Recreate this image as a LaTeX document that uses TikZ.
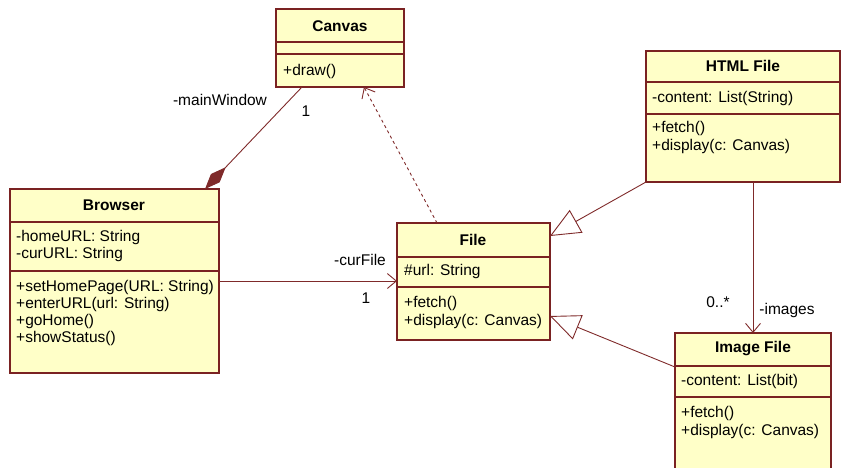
\documentclass[tikz,border=0pt]{standalone}
\usepackage{fontspec}
\setmainfont{Liberation Sans}
\usetikzlibrary{arrows.meta,calc}
\definecolor{boxfill}{HTML}{FFFFC8}
\definecolor{boxline}{HTML}{7A2222}
\definecolor{conn}{HTML}{7F2A2A}
\tikzset{
  umlbox/.style={draw=boxline, line width=1.2pt, fill=boxfill, anchor=north west, inner sep=0pt, outer sep=0pt},
  divider/.style={draw=boxline, line width=1.2pt},
  ttl/.style={font=\fontsize{15.5}{17}\selectfont\bfseries, inner sep=0pt, anchor=center},
  txt/.style={font=\fontsize{15.5}{17}\selectfont, inner sep=0pt, anchor=west},
  lbl/.style={font=\fontsize{15.5}{17}\selectfont, inner sep=0pt, anchor=center},
  connector/.style={draw=conn, line width=0.9pt},
  gentip/.style={-{Triangle[open,length=30pt,width=26pt,fill=white]}},
  barbtip/.style={-{Straight Barb[length=9pt,width=15pt]}},
}
\begin{document}
\begin{tikzpicture}[x=1pt,y=-1pt]
\useasboundingbox (0,0) rectangle (846,467);
% Canvas
\node[umlbox, minimum width=128pt, minimum height=78pt] (canvas) at (276,9) {};
\draw[divider] (276,42) -- (404,42);
\draw[divider] (276,54) -- (404,54);
\node[ttl] (canvasT) at (340,26) {Canvas};
\node[txt] (canvasM1) at (283,71) {+draw()};
% Browser
\node[umlbox, minimum width=209pt, minimum height=184pt] (browser) at (10,189) {};
\draw[divider] (10,222) -- (219,222);
\draw[divider] (10,271) -- (219,271);
\node[ttl] (browserT) at (114,205) {Browser};
\node[txt] (browserA1) at (16,237) {-homeURL: String};
\node[txt] (browserA2) at (16,254) {-curURL: String};
\node[txt] (browserM1) at (16,287) {+setHomePage(URL: String)};
\node[txt] (browserM2) at (16,304) {+enterURL(url: String)};
\node[txt] (browserM3) at (16,321) {+goHome()};
\node[txt] (browserM4) at (16,338) {+showStatus()};
% File
\node[umlbox, minimum width=153pt, minimum height=117pt] (file) at (397,223) {};
\draw[divider] (397,257) -- (550,257);
\draw[divider] (397,287) -- (550,287);
\node[ttl] (fileT) at (473,240) {File};
\node[txt] (fileA1) at (404,271) {\#url: String};
\node[txt] (fileM1) at (404,303) {+fetch()};
\node[txt] (fileM2) at (404,321) {+display(c: Canvas)};
% HTML File
\node[umlbox, minimum width=194pt, minimum height=131pt] (html) at (646,51) {};
\draw[divider] (646,82) -- (840,82);
\draw[divider] (646,114) -- (840,114);
\node[ttl] (htmlT) at (743,66) {HTML File};
\node[txt] (htmlA1) at (652,98) {-content: List(String)};
\node[txt] (htmlM1) at (652,128) {+fetch()};
\node[txt] (htmlM2) at (652,146) {+display(c: Canvas)};
% Image File
\node[umlbox, minimum width=156pt, minimum height=145pt] (image) at (675,333) {};
\draw[divider] (675,366) -- (831,366);
\draw[divider] (675,397) -- (831,397);
\node[ttl] (imageT) at (753,349) {Image File};
\node[txt] (imageA1) at (681,381) {-content: List(bit)};
\node[txt] (imageM1) at (681,413) {+fetch()};
\node[txt] (imageM2) at (681,431) {+display(c: Canvas)};
% Composition Browser -> Canvas
\draw[connector, {Diamond[length=30pt,width=12pt,fill=conn]}-] ($(browser.north west)+(195,0)$) -- ($(canvas.south west)+(26,0)$);
\node[lbl] (mw) at (220,100) {-mainWindow};
\node[lbl] (mw1) at (306,111) {1};
% Dependency File -> Canvas
\draw[connector, dashed, barbtip] ($(file.north west)+(40,0)$) -- ($(canvas.south west)+(88,0)$);
% Association Browser -> File
\draw[connector, barbtip] ($(browser.north east)+(0,92)$) -- ($(file.north west)+(0,58)$);
\node[lbl] (cf) at (360,260) {-curFile};
\node[lbl] (cf1) at (366,298) {1};
% Generalizations
\draw[connector, gentip] (html.south west) -- ($(file.north east)+(0,13)$);
\draw[connector, gentip] ($(image.north west)+(0,34)$) -- ($(file.north east)+(0,93)$);
% Association HTML -> Image
\draw[connector, barbtip] ($(html.south west)+(107,0)$) -- ($(image.north west)+(78,0)$);
\node[lbl] (im0) at (718,302) {0..*};
\node[lbl] (im1) at (787,310) {-images};
\end{tikzpicture}
\end{document}
